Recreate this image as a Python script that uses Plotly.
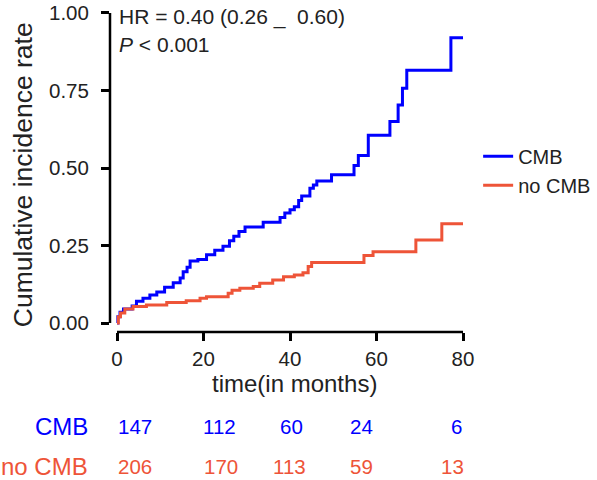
import plotly.graph_objects as go

# ---- data ----
cmb_time = [0, 0.2, 0.7, 1.5, 3.5, 4.5, 6.0, 7.6, 9.2, 11.0, 13.0, 14.6, 15.3, 16.2, 16.9,
            18.7, 20.7, 22.6, 24.5, 26.0, 27.0, 28.2, 29.6, 33.8, 37.7, 38.8, 40.0, 41.0,
            42.0, 42.7, 44.6, 45.4, 46.2, 49.6, 54.8, 55.8, 58.1, 63.1, 65.0, 66.0, 67.0,
            77.2, 80.0]
cmb_rate = [0.0, 0.02, 0.035, 0.045, 0.055, 0.07, 0.08, 0.09, 0.10, 0.115, 0.13, 0.145,
            0.165, 0.18, 0.20, 0.205, 0.22, 0.235, 0.248, 0.265, 0.28, 0.295, 0.31, 0.325,
            0.34, 0.355, 0.365, 0.375, 0.395, 0.41, 0.435, 0.445, 0.458, 0.478, 0.508, 0.54,
            0.606, 0.65, 0.703, 0.757, 0.815, 0.92, 0.92]

nocmb_time = [0, 0.3, 0.8, 1.8, 3.7, 6.8, 11.5, 16.0, 19.2, 20.7, 25.7, 26.6, 28.4, 31.5,
              33.0, 36.0, 38.5, 41.0, 43.0, 44.2, 45.0, 57.1, 59.2, 69.1, 75.1, 80.0]
nocmb_rate = [0.0, 0.02, 0.032, 0.045, 0.053, 0.058, 0.066, 0.072, 0.08, 0.085, 0.096,
              0.106, 0.112, 0.118, 0.128, 0.139, 0.149, 0.155, 0.162, 0.182, 0.195, 0.218,
              0.23, 0.268, 0.32, 0.32]

x_ticks = [0, 20, 40, 60, 80]
y_ticks = [0.0, 0.25, 0.5, 0.75, 1.0]
y_tick_labels = ["0.00", "0.25", "0.50", "0.75", "1.00"]

risk_times = [0, 20, 40, 60, 80]
risk_cmb = [147, 112, 60, 24, 6]
risk_nocmb = [206, 170, 113, 59, 13]

group_names = ["CMB", "no CMB"]
x_title = "time(in months)"
y_title = "Cumulative incidence rate"
hr_text = "HR = 0.40 (0.26 _&nbsp; 0.60)"
p_text = "<i>P</i> < 0.001"

# ---- style ----
BLUE = "#0000FF"
RED = "#EE5438"
FONT = "Liberation Sans, Arial, sans-serif"
TXT = "#222222"
risk_xshift = [18, 16, 1, -15, -7]
risk_xshift2 = [18, 17, -1, -15, -11]

fig = go.Figure()
fig.add_trace(go.Scatter(x=cmb_time, y=cmb_rate, mode="lines", name=group_names[0],
                         line=dict(color=BLUE, width=3, shape="hv")))
fig.add_trace(go.Scatter(x=nocmb_time, y=nocmb_rate, mode="lines", name=group_names[1],
                         line=dict(color=RED, width=3, shape="hv")))

fig.update_layout(
    width=597, height=480,
    margin=dict(l=110, r=132, t=12, b=148, autoexpand=False),
    paper_bgcolor="white", plot_bgcolor="white",
    font=dict(family=FONT, color=TXT),
    showlegend=True,
    legend=dict(x=1.037, y=0.61, xanchor="left", yanchor="top",
                font=dict(size=20, color=TXT), itemwidth=30,
                bgcolor="rgba(0,0,0,0)", tracegroupgap=0),
)
fig.update_xaxes(range=[-1.62, 80.46], tickvals=x_ticks, ticks="outside", ticklen=8,
                 tickwidth=2.5, tickcolor="black", showgrid=False, zeroline=False,
                 showline=False, tickfont=dict(size=20.5, color=TXT), ticklabelstandoff=0,
                 automargin=False)
fig.update_yaxes(range=[-0.029, 1.0032], tickvals=y_ticks, ticktext=y_tick_labels,
                 ticks="outside", ticklen=8, tickwidth=2.5, tickcolor="black",
                 showgrid=False, zeroline=False, showline=False,
                 tickfont=dict(size=20.5, color=TXT), ticklabelstandoff=8, automargin=False)

# axis titles
fig.add_annotation(x=0.52, y=-0.161, xref="paper", yref="paper", xanchor="center",
                   yanchor="middle", text=x_title, showarrow=False,
                   font=dict(size=24, color=TXT))
fig.add_annotation(x=-0.245, y=0.49, xref="paper", yref="paper", xanchor="center",
                   yanchor="middle", text=y_title, showarrow=False, textangle=-90,
                   font=dict(size=26.5, color=TXT))

# axis lines spanning only the tick range (base-R style)
fig.add_shape(type="line", xref="paper", yref="y", x0=0, x1=0, y0=0, y1=1,
              line=dict(color="black", width=2.5))
fig.add_shape(type="line", xref="x", yref="paper", x0=0, x1=80, y0=0, y1=0,
              line=dict(color="black", width=2.5))

# HR / P annotation
fig.add_annotation(x=0.02, y=0.984, xref="paper", yref="paper", xanchor="left",
                   yanchor="middle", text=hr_text, showarrow=False,
                   font=dict(size=21, color=TXT))
fig.add_annotation(x=0.02, y=0.897, xref="paper", yref="paper", xanchor="left",
                   yanchor="middle", text=p_text, showarrow=False,
                   font=dict(size=21, color=TXT))

# number-at-risk table
row_y = [-0.294, -0.419]
fig.add_annotation(x=-0.056, y=row_y[0], xref="paper", yref="paper", xanchor="right",
                   yanchor="middle", text=group_names[0], showarrow=False,
                   font=dict(size=24, color=BLUE))
fig.add_annotation(x=-0.056, y=row_y[1], xref="paper", yref="paper", xanchor="right",
                   yanchor="middle", text=group_names[1], showarrow=False,
                   font=dict(size=24, color=RED))
for i, t in enumerate(risk_times):
    fig.add_annotation(x=t, y=row_y[0], xref="x", yref="paper", xanchor="center",
                       yanchor="middle", text=str(risk_cmb[i]), showarrow=False,
                       xshift=risk_xshift[i], font=dict(size=20.5, color=BLUE))
    fig.add_annotation(x=t, y=row_y[1], xref="x", yref="paper", xanchor="center",
                       yanchor="middle", text=str(risk_nocmb[i]), showarrow=False,
                       xshift=risk_xshift2[i], font=dict(size=20.5, color=RED))

fig.write_html("out.html")
